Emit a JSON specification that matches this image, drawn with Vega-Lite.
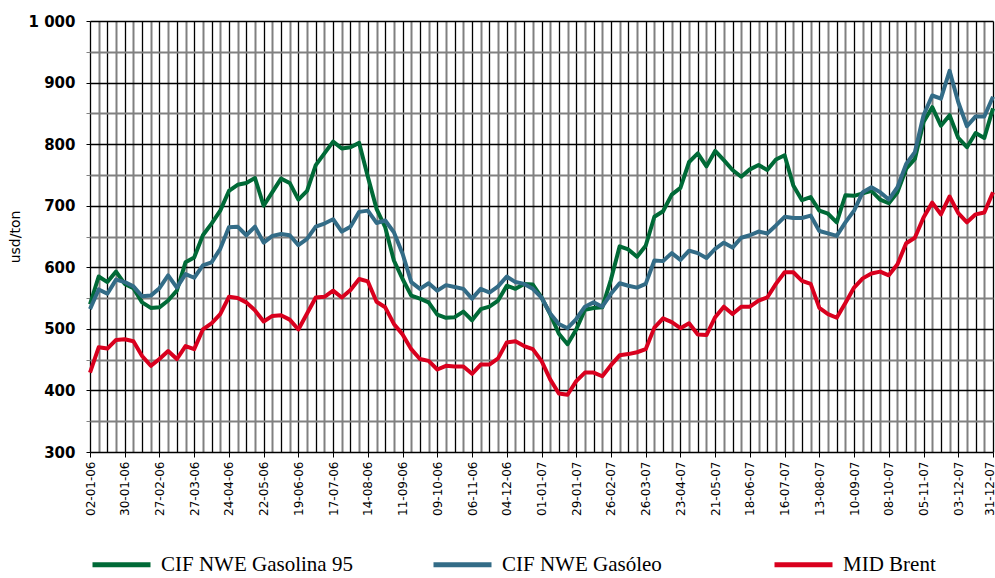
{
  "$schema": "https://vega.github.io/schema/vega-lite/v6.json",
  "width": 903,
  "height": 431,
  "autosize": {"type": "none"},
  "padding": {"left": 90, "top": 21, "right": 2, "bottom": 126},
  "background": "white",
  "config": {"view": {"stroke": null}},
  "data": {"values": [
    {"d":"02-01-06","g":540,"b":532,"r":429},
    {"d":"09-01-06","g":585,"b":564,"r":470},
    {"d":"16-01-06","g":576,"b":557,"r":468},
    {"d":"23-01-06","g":593,"b":580,"r":482},
    {"d":"30-01-06","g":573,"b":576,"r":483},
    {"d":"06-02-06","g":566,"b":569,"r":480},
    {"d":"13-02-06","g":543,"b":553,"r":456},
    {"d":"20-02-06","g":534,"b":554,"r":440},
    {"d":"27-02-06","g":535,"b":566,"r":451},
    {"d":"06-03-06","g":546,"b":587,"r":464},
    {"d":"13-03-06","g":562,"b":567,"r":451},
    {"d":"20-03-06","g":608,"b":589,"r":472},
    {"d":"27-03-06","g":616,"b":583,"r":467},
    {"d":"03-04-06","g":652,"b":603,"r":499},
    {"d":"10-04-06","g":671,"b":608,"r":509},
    {"d":"17-04-06","g":692,"b":630,"r":524},
    {"d":"24-04-06","g":724,"b":665,"r":552},
    {"d":"01-05-06","g":734,"b":666,"r":550},
    {"d":"08-05-06","g":737,"b":652,"r":543},
    {"d":"15-05-06","g":745,"b":666,"r":530},
    {"d":"22-05-06","g":700,"b":640,"r":512},
    {"d":"29-05-06","g":722,"b":651,"r":521},
    {"d":"05-06-06","g":744,"b":654,"r":522},
    {"d":"12-06-06","g":737,"b":652,"r":515},
    {"d":"19-06-06","g":710,"b":636,"r":499},
    {"d":"26-06-06","g":724,"b":646,"r":525},
    {"d":"03-07-06","g":766,"b":666,"r":551},
    {"d":"10-07-06","g":785,"b":671,"r":552},
    {"d":"17-07-06","g":804,"b":678,"r":562},
    {"d":"24-07-06","g":793,"b":658,"r":551},
    {"d":"31-07-06","g":795,"b":666,"r":563},
    {"d":"07-08-06","g":802,"b":690,"r":581},
    {"d":"14-08-06","g":747,"b":692,"r":577},
    {"d":"21-08-06","g":695,"b":672,"r":544},
    {"d":"28-08-06","g":665,"b":676,"r":535},
    {"d":"04-09-06","g":611,"b":657,"r":508},
    {"d":"11-09-06","g":581,"b":622,"r":491},
    {"d":"18-09-06","g":554,"b":576,"r":467},
    {"d":"25-09-06","g":549,"b":565,"r":451},
    {"d":"02-10-06","g":543,"b":574,"r":448},
    {"d":"09-10-06","g":523,"b":562,"r":434},
    {"d":"16-10-06","g":518,"b":571,"r":440},
    {"d":"23-10-06","g":519,"b":568,"r":439},
    {"d":"30-10-06","g":528,"b":565,"r":439},
    {"d":"06-11-06","g":514,"b":549,"r":427},
    {"d":"13-11-06","g":532,"b":565,"r":442},
    {"d":"20-11-06","g":536,"b":559,"r":442},
    {"d":"27-11-06","g":546,"b":569,"r":452},
    {"d":"04-12-06","g":570,"b":585,"r":478},
    {"d":"11-12-06","g":565,"b":576,"r":480},
    {"d":"18-12-06","g":573,"b":573,"r":472},
    {"d":"25-12-06","g":572,"b":565,"r":467},
    {"d":"01-01-07","g":551,"b":551,"r":448},
    {"d":"08-01-07","g":524,"b":525,"r":418},
    {"d":"15-01-07","g":492,"b":508,"r":395},
    {"d":"22-01-07","g":475,"b":501,"r":393},
    {"d":"29-01-07","g":499,"b":516,"r":415},
    {"d":"05-02-07","g":531,"b":536,"r":429},
    {"d":"12-02-07","g":534,"b":543,"r":429},
    {"d":"19-02-07","g":535,"b":536,"r":423},
    {"d":"26-02-07","g":580,"b":557,"r":441},
    {"d":"05-03-07","g":634,"b":574,"r":457},
    {"d":"12-03-07","g":629,"b":570,"r":459},
    {"d":"19-03-07","g":617,"b":567,"r":462},
    {"d":"26-03-07","g":635,"b":573,"r":467},
    {"d":"02-04-07","g":682,"b":611,"r":502},
    {"d":"09-04-07","g":691,"b":610,"r":517},
    {"d":"16-04-07","g":718,"b":623,"r":511},
    {"d":"23-04-07","g":729,"b":612,"r":501},
    {"d":"30-04-07","g":771,"b":627,"r":509},
    {"d":"07-05-07","g":785,"b":623,"r":491},
    {"d":"14-05-07","g":764,"b":615,"r":490},
    {"d":"21-05-07","g":789,"b":630,"r":519},
    {"d":"28-05-07","g":774,"b":640,"r":536},
    {"d":"04-06-07","g":758,"b":632,"r":524},
    {"d":"11-06-07","g":747,"b":648,"r":536},
    {"d":"18-06-07","g":759,"b":652,"r":536},
    {"d":"25-06-07","g":766,"b":658,"r":546},
    {"d":"02-07-07","g":758,"b":655,"r":551},
    {"d":"09-07-07","g":775,"b":668,"r":573},
    {"d":"16-07-07","g":782,"b":682,"r":592},
    {"d":"23-07-07","g":733,"b":680,"r":592},
    {"d":"30-07-07","g":709,"b":680,"r":578},
    {"d":"06-08-07","g":714,"b":684,"r":573},
    {"d":"13-08-07","g":692,"b":659,"r":534},
    {"d":"20-08-07","g":687,"b":655,"r":524},
    {"d":"27-08-07","g":673,"b":651,"r":518},
    {"d":"03-09-07","g":717,"b":673,"r":542},
    {"d":"10-09-07","g":716,"b":692,"r":567},
    {"d":"17-09-07","g":720,"b":722,"r":582},
    {"d":"24-09-07","g":724,"b":730,"r":590},
    {"d":"01-10-07","g":710,"b":722,"r":593},
    {"d":"08-10-07","g":704,"b":710,"r":587},
    {"d":"15-10-07","g":722,"b":730,"r":605},
    {"d":"22-10-07","g":760,"b":768,"r":639},
    {"d":"29-10-07","g":776,"b":787,"r":648},
    {"d":"05-11-07","g":836,"b":847,"r":681},
    {"d":"12-11-07","g":860,"b":879,"r":705},
    {"d":"19-11-07","g":830,"b":874,"r":686},
    {"d":"26-11-07","g":847,"b":919,"r":715},
    {"d":"03-12-07","g":810,"b":868,"r":688},
    {"d":"10-12-07","g":795,"b":829,"r":673},
    {"d":"17-12-07","g":818,"b":845,"r":686},
    {"d":"24-12-07","g":810,"b":845,"r":689},
    {"d":"31-12-07","g":858,"b":877,"r":722}
  ]},
  "transform": [{"fold": ["g", "b", "r"], "as": ["k", "v"]}],
  "mark": {"type": "line", "strokeWidth": 4, "strokeJoin": "round"},
  "encoding": {
    "x": {
      "field": "d", "type": "ordinal", "sort": null,
      "scale": {"type": "point", "padding": 0},
      "axis": {
        "title": null,
        "domain": false,
        "grid": true,
        "gridColor": {"condition": {"test": "round(datum.index*104) % 2 == 0", "value": "#000000"}, "value": "#808080"},
        "gridWidth": {"condition": {"test": "round(datum.index*104) % 2 == 0", "value": 1.3}, "value": 2},
        "gridOpacity": 1,
        "ticks": true,
        "tickSize": 5,
        "tickColor": {"condition": {"test": "round(datum.index*104) % 4 == 0", "value": "#000000"}, "value": "transparent"},
        "labelExpr": "round(datum.index*104) % 4 == 0 ? datum.label : ''",
        "labelAngle": -90,
        "labelOffset": {"condition": {"test": "round(datum.index*104) == 104", "value": -4}, "value": 0},
        "labelFont": "DejaVu Sans",
        "labelFontSize": 12,
        "labelColor": "#000000",
        "labelPadding": 4,
        "labelOverlap": false
      }
    },
    "y": {
      "field": "v", "type": "quantitative",
      "scale": {"domain": [300, 1000], "nice": false, "zero": false},
      "axis": {
        "values": [300,350,400,450,500,550,600,650,700,750,800,850,900,950,1000],
        "title": "usd/ton",
        "titleFont": "DejaVu Sans",
        "titleFontWeight": "normal",
        "titleFontSize": 14,
        "titleColor": "#000000",
        "titlePadding": 6,
        "domain": false,
        "grid": true,
        "gridColor": {"condition": {"test": "datum.value % 100 == 0", "value": "#000000"}, "value": "#808080"},
        "gridWidth": {"condition": {"test": "datum.value % 100 == 0", "value": 1.5}, "value": 2},
        "gridOpacity": 1,
        "tickSize": 4,
        "tickColor": {"condition": {"test": "datum.value % 100 == 0", "value": "#000000"}, "value": "#808080"},
        "labelExpr": "datum.value % 100 == 0 ? replace(format(datum.value, ','), ',', ' ') : ''",
        "labelFont": "DejaVu Sans",
        "labelFontWeight": "bold",
        "labelFontSize": 15,
        "labelColor": "#000000",
        "labelPadding": 11
      }
    },
    "color": {
      "field": "k", "type": "nominal",
      "scale": {"domain": ["g", "b", "r"], "range": ["#006a37", "#336c87", "#d9001e"]},
      "legend": {
        "orient": "none",
        "legendX": 0,
        "legendY": 512,
        "direction": "horizontal",
        "columns": 3,
        "gridAlign": "all",
        "columnPadding": 70,
        "padding": 0,
        "title": null,
        "symbolType": "stroke",
        "symbolSize": 3364,
        "symbolStrokeWidth": 5,
        "labelOffset": 8,
        "labelFont": "Liberation Sans Narrow",
        "labelFontSize": 21,
        "labelColor": "#000000",
        "labelLimit": 400,
        "labelExpr": "datum.value == 'g' ? 'CIF NWE Gasolina 95' : datum.value == 'b' ? 'CIF NWE Gasóleo' : 'MID Brent'"
      }
    }
  }
}
